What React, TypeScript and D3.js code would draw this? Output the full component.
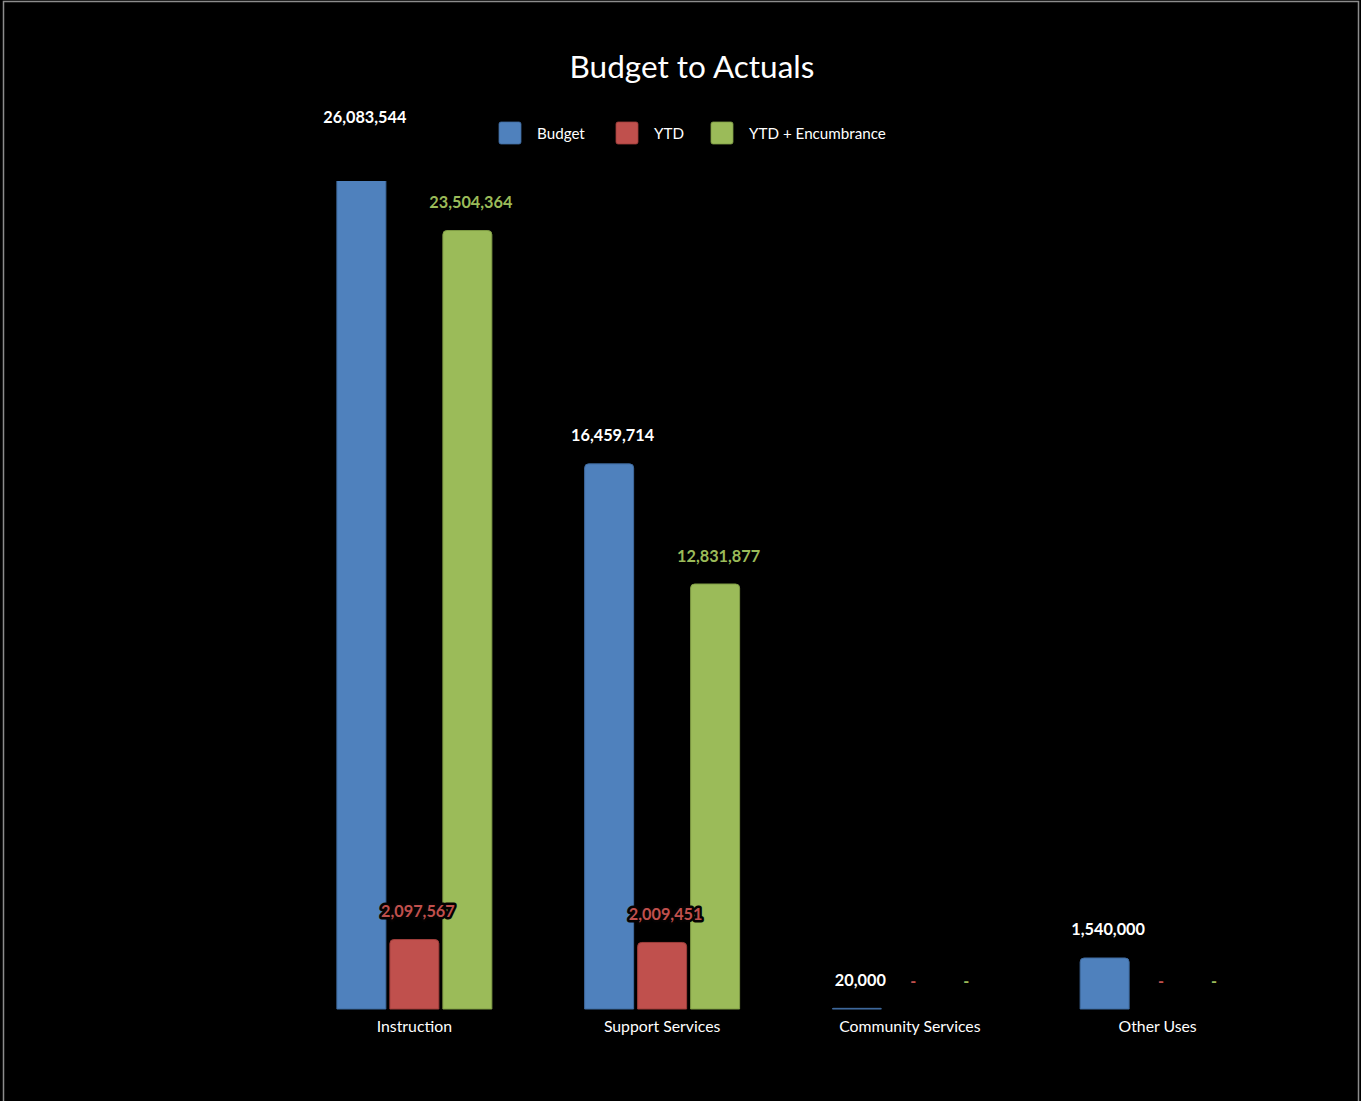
import React from "react";
import * as d3 from "d3";

const categories = ["Instruction", "Support Services", "Community Services", "Other Uses"];
const seriesNames = ["Budget", "YTD", "YTD + Encumbrance"];
const budget = [26083544, 16459714, 20000, 1540000];
const ytd = [2097567, 2009451, 0, 0];
const ytdEnc = [23504364, 12831877, 0, 0];
const yMax = 25000000;

const colors = ["#4F81BD", "#C0504D", "#9BBB59"];
const strokes = ["#3F6A9E", "#9E3E3B", "#7F9C45"];

const W = 1361;
const H = 1101;
const FONT = "Lato, 'Open Sans', sans-serif";

function topRounded(x: number, y: number, w: number, h: number, r: number) {
  const rr = Math.min(r, h, w / 2);
  return `M${x},${y + h}V${y + rr}Q${x},${y} ${x + rr},${y}H${x + w - rr}Q${x + w},${y} ${x + w},${y + rr}V${y + h}Z`;
}

export default function App() {
  const plotTop = 181;
  const plotBottom = 1009;
  const y = d3.scaleLinear().domain([0, yMax]).range([plotBottom, plotTop]);
  const x0 = d3
    .scaleBand<string>()
    .domain(categories)
    .range([290.5, 1281.5])
    .paddingInner(0.3744)
    .paddingOuter(0.1872);
  const x1 = d3.scaleBand<string>().domain(seriesNames).range([0, x0.bandwidth()]).paddingInner(0.0755);
  const values = [budget, ytd, ytdEnc];
  const fmt = d3.format(",");

  const legendX = [499, 616, 711];

  return (
    <svg
      width={W}
      height={H}
      style={{ position: "absolute", left: 0, top: 0, display: "block" }}
      fontFamily={FONT}
    >
      <defs>
        <clipPath id="plotClip">
          <rect x={0} y={plotTop} width={W} height={plotBottom - plotTop + 2} />
        </clipPath>
      </defs>
      <rect x={0} y={0} width={W} height={H} fill="#000" />
      <rect x={3.5} y={1.5} width={1355} height={H + 10} fill="#000" stroke="#8c8c8c" strokeWidth={1.5} />

      <text x={692} y={66} textAnchor="middle" dominantBaseline="central" fill="#fff" fontSize={31.5}>
        Budget to Actuals
      </text>

      {seriesNames.map((s, i) => (
        <g key={s}>
          <rect x={legendX[i]} y={122} width={22} height={22} rx={2} fill={colors[i]} stroke={strokes[i]} strokeWidth={0.8} />
          <text x={legendX[i] + 38} y={133} dominantBaseline="central" fill="#fff" fontSize={15.2}>
            {s}
          </text>
        </g>
      ))}

      <g clipPath="url(#plotClip)">
        {categories.map((c, ci) =>
          seriesNames.map((s, si) => {
            const v = values[si][ci];
            if (v <= 0) return null;
            const bx = (x0(c) as number) + (x1(s) as number);
            const bw = x1.bandwidth();
            const top = y(v);
            const h = plotBottom - top;
            return (
              <path
                key={c + s}
                d={topRounded(bx, top, bw, Math.max(h, 0.7), 4)}
                fill={colors[si]}
                stroke={strokes[si]}
                strokeWidth={1}
              />
            );
          })
        )}
      </g>

      {categories.map((c, ci) =>
        seriesNames.map((s, si) => {
          const v = values[si][ci];
          const cx = (x0(c) as number) + (x1(s) as number) + x1.bandwidth() / 2 + 3.5;
          const ly = y(v) - 29;
          const label = v === 0 ? "-" : fmt(v);
          const fill = si === 0 ? "#fff" : colors[si];
          return (
            <text
              key={"l" + c + s}
              x={cx}
              y={ly}
              textAnchor="middle"
              dominantBaseline="central"
              fontSize={16.3}
              fontWeight="bold"
              fill={fill}
              stroke={si === 1 && v > 0 ? "#050202" : "none"}
              strokeWidth={si === 1 && v > 0 ? 5 : 0}
              strokeLinejoin="round"
              style={{ paintOrder: "stroke" }}
            >
              {label}
            </text>
          );
        })
      )}

      {categories.map((c) => (
        <text
          key={"c" + c}
          x={(x0(c) as number) + x0.bandwidth() / 2}
          y={1025.5}
          textAnchor="middle"
          dominantBaseline="central"
          fill="#fff"
          fontSize={15.8}
        >
          {c}
        </text>
      ))}
    </svg>
  );
}
